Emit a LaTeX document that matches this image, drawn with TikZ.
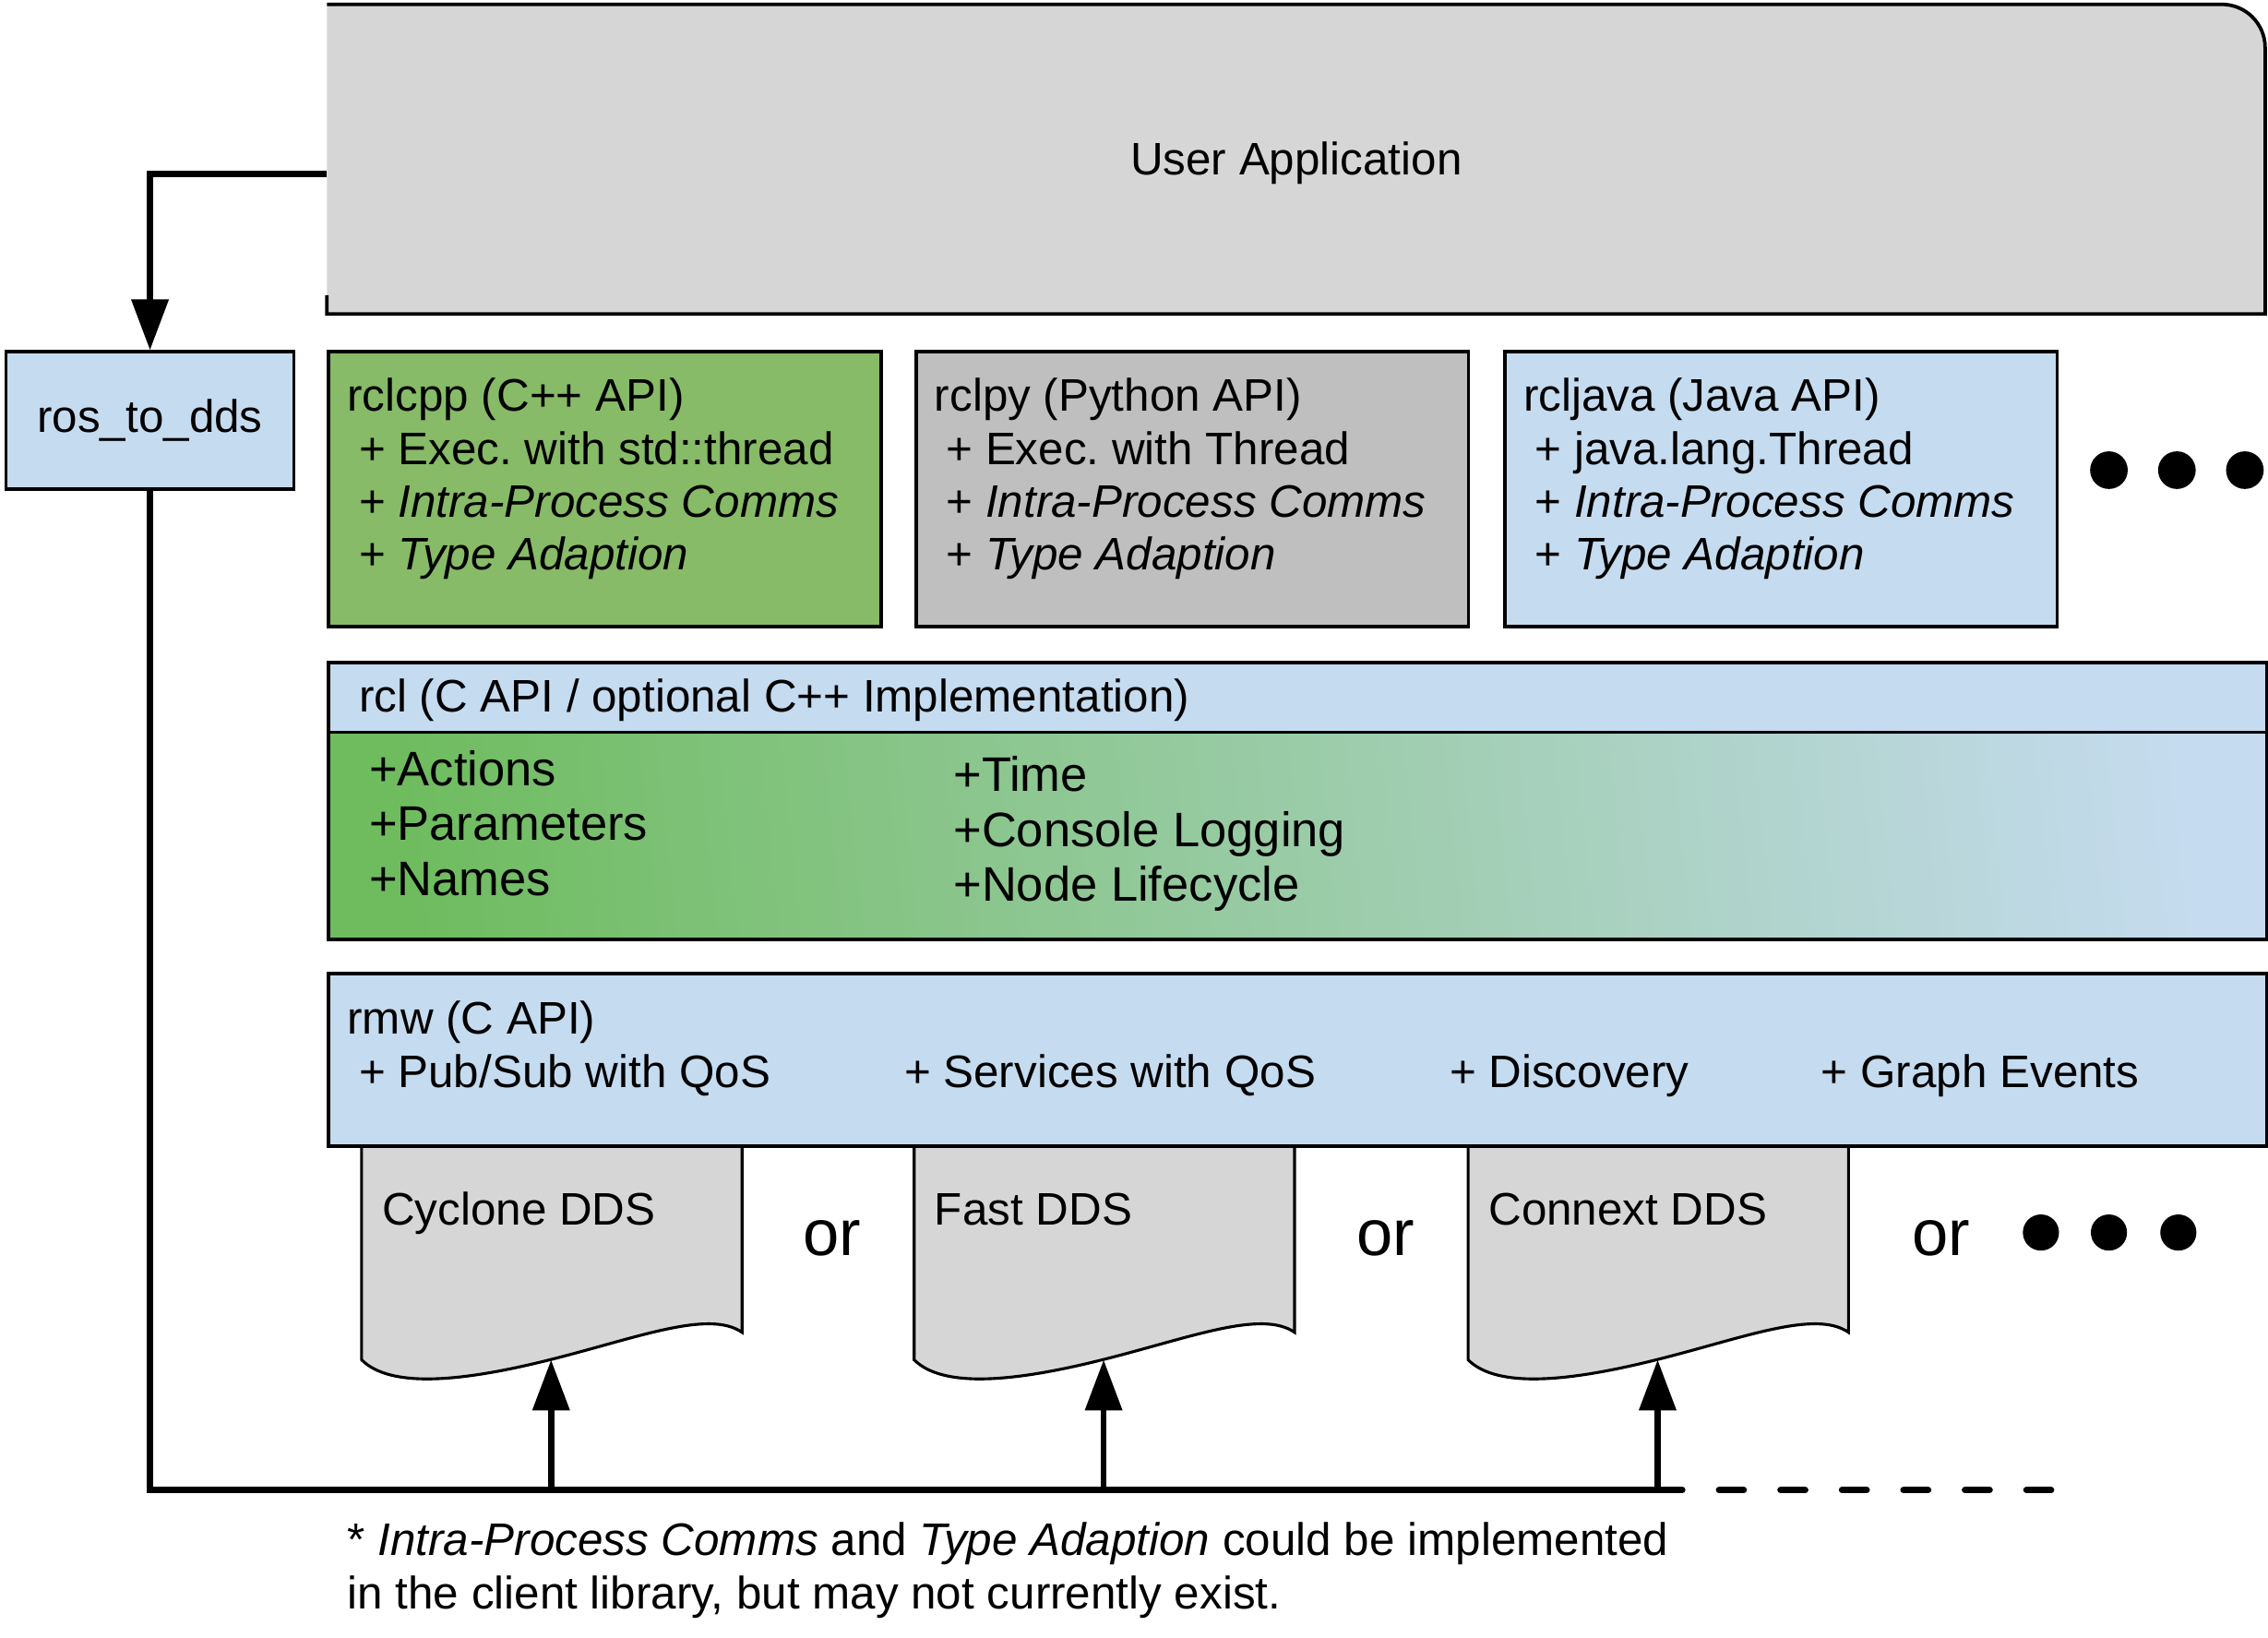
\documentclass[tikz,border=0pt]{standalone}
\usepackage{fontspec}
\setmainfont{Liberation Sans}
\usetikzlibrary{arrows.meta,positioning,calc}

\definecolor{appgray}{HTML}{D6D6D6}
\definecolor{cppgreen}{HTML}{87BB67}
\definecolor{pygray}{HTML}{BFBFBF}
\definecolor{apiblue}{HTML}{C5DBEF}
\definecolor{rclgreen}{HTML}{6FBC5F}

\tikzset{
  layer/.style={draw, line width=2.4pt, inner sep=0pt, anchor=north west,
    font=\fontsize{31.5}{36.5}\selectfont},
  lbl/.style={anchor=base west, inner sep=0pt, align=left,
    font=\fontsize{31.5}{36.5}\selectfont},
  biglbl/.style={anchor=base west, inner sep=0pt, align=left,
    font=\fontsize{33.5}{38}\selectfont},
  orlbl/.style={anchor=base, inner sep=0pt, font=\fontsize{45}{54}\selectfont},
  conn/.style={line width=4.2pt, -{Triangle[length=35pt,width=25pt]}},
  bus/.style={line width=4.5pt},
  doc/.style={draw, fill=appgray, line width=2pt},
}

\begin{document}
\begin{tikzpicture}[x=1pt,y=-1pt]
\useasboundingbox (0,0) rectangle (1568,1132);

% User Application (open on the left)
\fill[appgray] (226,3) -- (1536,3) .. controls (1552.6,3) and (1566,16.4) .. (1566,33)
  -- (1566,217) -- (226,217) -- cycle;
\draw[line width=2.4pt] (226,204) -- (226,217) -- (1566,217) -- (1566,33)
  .. controls (1566,16.4) and (1552.6,3) .. (1536,3) -- (226,3);
\node[minimum width=1340pt, minimum height=214pt, inner sep=0pt, anchor=north west] (app) at (226,3) {};
\node[lbl, anchor=base] (apptxt) at ([yshift=-11pt]app.center) {User Application};

% client libraries (multi-line labels sit on their last line)
\node[layer, fill=apiblue, minimum width=199pt, minimum height=95pt] (ros) at (3,242) {ros\_to\_dds};
\node[layer, fill=cppgreen, minimum width=382pt, minimum height=190pt] (rclcpp) at (226,242) {};
\node[layer, fill=pygray, minimum width=382pt, minimum height=190pt] (rclpy) at (632,242) {};
\node[layer, fill=apiblue, minimum width=382pt, minimum height=190pt] (rcljava) at (1039,242) {};
\node[lbl] (rclcpptxt) at ([shift={(14,152)}]rclcpp.north west)
  {rclcpp (C++ API)\\\hspace*{8pt}+ Exec.\ with std::thread\\\hspace*{8pt}+ \textit{Intra-Process Comms}\\\hspace*{8pt}+ \textit{Type Adaption}};
\node[lbl] (rclpytxt) at ([shift={(14,152)}]rclpy.north west)
  {rclpy (Python API)\\\hspace*{8pt}+ Exec.\ with Thread\\\hspace*{8pt}+ \textit{Intra-Process Comms}\\\hspace*{8pt}+ \textit{Type Adaption}};
\node[lbl] (rcljavatxt) at ([shift={(14,152)}]rcljava.north west)
  {rcljava (Java API)\\\hspace*{8pt}+ java.lang.Thread\\\hspace*{8pt}+ \textit{Intra-Process Comms}\\\hspace*{8pt}+ \textit{Type Adaption}};
\foreach \cx in {1458,1505,1552} \fill (\cx,325) circle[radius=13pt];

% rcl
\node[layer, fill=apiblue, minimum width=1340pt, minimum height=48pt] (rcl) at (226,457) {};
\node[layer, minimum width=1340pt, minimum height=143pt, left color=rclgreen, right color=apiblue,
  shading angle=96] (rclbody) at (226,505) {};
\node[lbl] (rcltxt) at (248,492) {rcl (C API / optional C++ Implementation)};
\node[biglbl] (rclleft) at (255,619) {+Actions\\+Parameters\\+Names};
\node[biglbl] (rclright) at (659,623) {+Time\\+Console Logging\\+Node Lifecycle};

% DDS implementations
\foreach \x/\name/\ddsname in {250/cyclone/Cyclone DDS,632/fast/Fast DDS,1015/connext/Connext DDS}{
  \draw[doc] (\x,791) -- (\x,940) .. controls (\x+20,960) and (\x+70,955) .. (\x+130,940)
    .. controls (\x+190,925) and (\x+240,905) .. (\x+263,921) -- (\x+263,791) -- cycle;
  \node[lbl] (\name) at (\x+14,847) {\ddsname};
  \coordinate (\name-tip) at (\x+131,940);
}

% rmw
\node[layer, fill=apiblue, minimum width=1340pt, minimum height=119pt] (rmw) at (226,672) {};
\node[lbl] (rmwtxt) at (240,715) {rmw (C API)};
\node[lbl] (pubsub) at (248,752) {+ Pub/Sub with QoS};
\node[lbl] (services) at (625,752) {+ Services with QoS};
\node[lbl] (discovery) at (1002,752) {+ Discovery};
\node[lbl] (graph) at (1259,752) {+ Graph Events};

\foreach \ox/\n in {575/1,958/2,1342/3} \node[orlbl] (or\n) at (\ox,868) {or};
\foreach \cx in {1411,1458,1506} \fill (\cx,852) circle[radius=12.5pt];

% connectors
\coordinate (bus) at (104,1030);
\coordinate (busend) at (1422,1030);
\draw[conn] ([yshift=-10pt]app.west) -| (ros.north);
\draw[bus] (ros.south) |- (connext-tip |- bus);
\draw[bus, line cap=round, dash pattern=on 17pt off 25.5pt] (connext-tip |- bus) -- (busend);
\draw[conn] (cyclone-tip |- bus) -- (cyclone-tip);
\draw[conn] (fast-tip |- bus) -- (fast-tip);
\draw[conn] (connext-tip |- bus) -- (connext-tip);

% footnote
\node[lbl] (note) at (240,1112) {* \textit{Intra-Process Comms} and \textit{Type Adaption} could be implemented\\in the client library, but may not currently exist.};
\end{tikzpicture}
\end{document}
